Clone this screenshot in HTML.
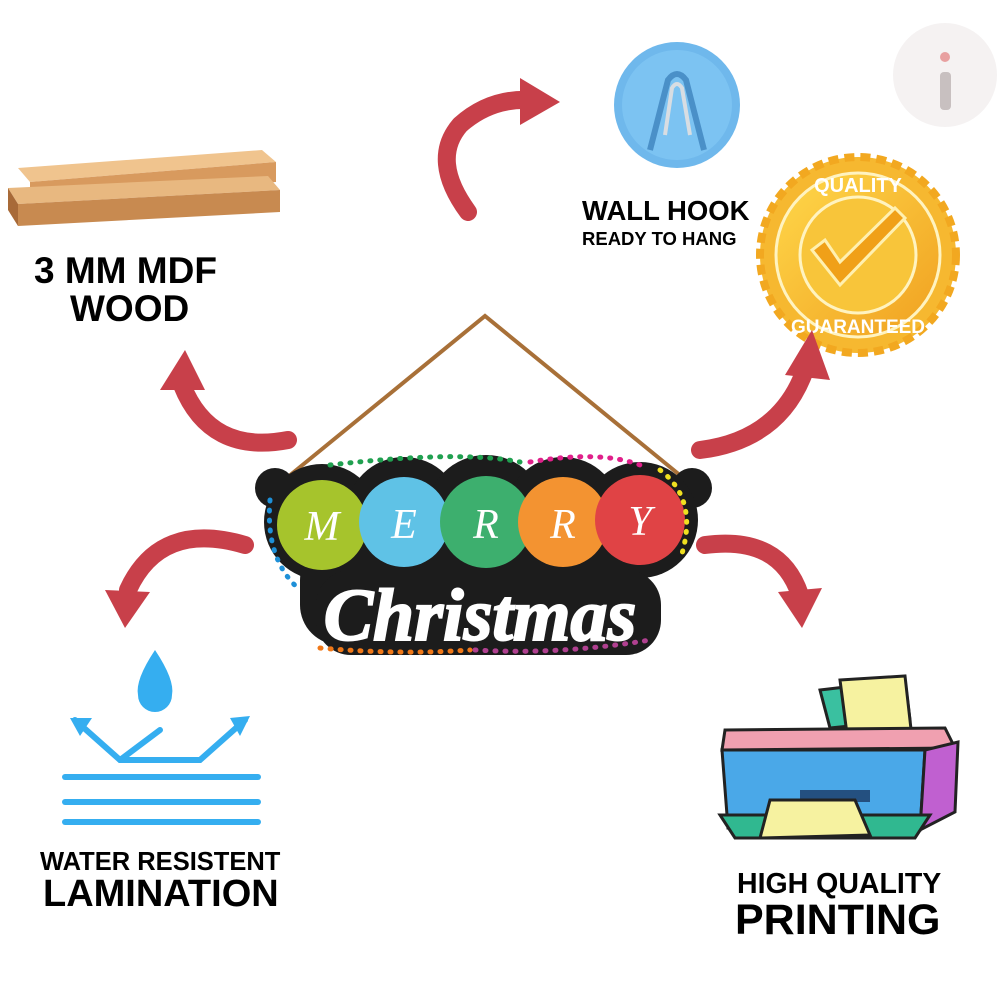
<!DOCTYPE html>
<html><head><meta charset="utf-8"><style>
body{margin:0;background:#fff;width:1000px;height:1000px;overflow:hidden;font-family:"Liberation Sans",sans-serif}
svg{position:absolute;left:0;top:0}
</style></head><body>
<svg width="1000" height="1000" viewBox="0 0 1000 1000">
<defs>
<linearGradient id="gold" x1="0" y1="0" x2="1" y2="1"><stop offset="0" stop-color="#ffd84a"/><stop offset="1" stop-color="#f0a020"/></linearGradient>
</defs>
<circle cx="945" cy="75" r="52" fill="#f5f2f2"/>
<rect x="940" y="72" width="11" height="38" rx="4" fill="#c8c0c0"/>
<circle cx="945" cy="57" r="5" fill="#e8a0a0"/>
<!-- wood -->
<polygon points="18,168 262,150 276,162 30,182" fill="#f0c48e"/>
<polygon points="30,182 276,162 276,182 30,200" fill="#d89a5e"/>
<polygon points="8,188 268,176 280,190 18,204" fill="#e8b880"/>
<polygon points="18,204 280,190 280,212 18,226" fill="#c88a50"/>
<polygon points="8,188 18,204 18,226 8,210" fill="#a86a38"/>
<!-- hook -->
<circle cx="677" cy="105" r="63" fill="#6fb8ec"/>
<circle cx="677" cy="105" r="55" fill="#7cc3f2"/>
<path d="M650 150 L668 80 Q677 68 686 80 L704 150" fill="none" stroke="#4a90c8" stroke-width="6"/>
<path d="M665 135 L672 88 Q677 80 682 88 L690 135" fill="none" stroke="#d8dde2" stroke-width="4"/>
<!-- badge -->
<circle cx="858" cy="255" r="98" fill="#f6b830" stroke="#f2a820" stroke-width="8" stroke-dasharray="10 6"/>
<circle cx="858" cy="255" r="82" fill="url(#gold)" stroke="#fff3c0" stroke-width="3"/>
<circle cx="858" cy="255" r="58" fill="#f8c53a" stroke="#fff3c0" stroke-width="3"/>
<path d="M812 250 L840 285 L905 218 L895 208 L840 262 L825 240 Z" fill="#f0a018" stroke="#fff0b0" stroke-width="3"/>
<text x="858" y="192" text-anchor="middle" font-weight="bold" font-size="20" fill="#fff">QUALITY</text>
<text x="858" y="333" text-anchor="middle" font-weight="bold" font-size="19" fill="#fff">GUARANTEED</text>
<!-- arrows -->
<g fill="none" stroke="#c8404a" stroke-width="18" stroke-linecap="round">
<path d="M468 212 Q430 160 460 125 Q490 98 530 100"/>
<path d="M288 440 Q210 455 182 385"/>
<path d="M700 450 Q780 440 805 370"/>
<path d="M245 545 Q160 520 128 590"/>
<path d="M705 545 Q780 535 800 595"/>
</g>
<g fill="#c8404a">
<polygon points="520,78 560,102 520,125"/>
<polygon points="160,390 185,350 205,390"/>
<polygon points="785,375 812,330 830,380"/>
<polygon points="105,590 125,628 150,592"/>
<polygon points="778,592 802,628 822,588"/>
</g>
<!-- sign -->
<path d="M278 485 L485 316 L692 485" fill="none" stroke="#a87038" stroke-width="4"/>
<g fill="#1c1c1c">
<circle cx="275" cy="488" r="20"/><circle cx="692" cy="488" r="20"/>
<circle cx="322" cy="522" r="58"/><circle cx="404" cy="515" r="58"/><circle cx="486" cy="515" r="60"/><circle cx="563" cy="515" r="58"/><circle cx="640" cy="520" r="58"/>
<rect x="300" y="540" width="330" height="105" rx="40"/>
<rect x="316" y="570" width="345" height="85" rx="35"/>
</g>
<circle cx="322" cy="525" r="45" fill="#a6c42c"/>
<circle cx="404" cy="522" r="45" fill="#5fc2e6"/>
<circle cx="486" cy="522" r="46" fill="#3daf6e"/>
<circle cx="563" cy="522" r="45" fill="#f39331"/>
<circle cx="640" cy="520" r="45" fill="#e04345"/>
<g fill="#fff" font-family="Liberation Serif,serif" font-style="italic" font-size="42" text-anchor="middle">
<text x="322" y="540">M</text><text x="404" y="538">E</text><text x="486" y="538">R</text><text x="563" y="538">R</text><text x="640" y="535">Y</text>
</g>
<g fill="none" stroke-width="5" stroke-dasharray="1 9" stroke-linecap="round">
<path d="M270 500 Q265 560 300 590" stroke="#1e90d8"/>
<path d="M330 465 Q460 450 520 462" stroke="#20a050"/>
<path d="M530 462 Q600 450 640 465" stroke="#e0208a"/>
<path d="M660 470 Q700 500 680 560" stroke="#f0e020"/>
<path d="M320 648 Q400 655 470 650" stroke="#f07818"/>
<path d="M475 650 Q560 655 650 640" stroke="#b04090"/>
</g>
<text x="480" y="640" text-anchor="middle" font-family="Liberation Serif,serif" font-style="italic" font-weight="bold" font-size="74" fill="#fff" stroke="#fff" stroke-width="2">Christmas</text>
<!-- water icon -->
<path d="M155 650 Q135 680 138 695 A17 17 0 0 0 172 695 Q175 680 155 650Z" fill="#35aef0"/>
<g fill="none" stroke="#35aef0" stroke-width="6" stroke-linecap="round">
<path d="M75 720 L120 760 L165 760 L200 760 L245 720"/>
<path d="M120 760 L160 730"/>
<path d="M65 777 L258 777"/><path d="M65 802 L258 802"/><path d="M65 822 L258 822"/>
</g>
<polygon points="70,718 92,718 80,736" fill="#35aef0"/>
<polygon points="250,716 230,718 240,736" fill="#35aef0"/>
<!-- printer -->
<polygon points="820,690 905,680 910,720 830,728" fill="#3ac0a0" stroke="#222" stroke-width="3"/>
<polygon points="840,680 905,676 912,738 848,742" fill="#f6f2a0" stroke="#222" stroke-width="3"/>
<polygon points="725,730 945,728 955,748 722,750" fill="#f0a0b0" stroke="#222" stroke-width="3"/>
<polygon points="722,750 925,750 920,830 728,828" fill="#4aa8e8" stroke="#222" stroke-width="3"/>
<polygon points="925,750 958,742 955,812 920,830" fill="#c060d0" stroke="#222" stroke-width="3"/>
<rect x="800" y="790" width="70" height="12" fill="#245080"/>
<polygon points="720,815 930,815 915,838 735,838" fill="#30b890" stroke="#222" stroke-width="3"/>
<polygon points="770,800 855,800 870,835 760,838" fill="#f6f2a0" stroke="#222" stroke-width="3"/>
</svg>
<div style="position:absolute;left:34px;top:252px;font-weight:bold;font-size:37px;line-height:38px">3 MM MDF<br><span style="margin-left:36px">WOOD</span></div>
<div style="position:absolute;left:582px;top:197px;font-weight:bold;font-size:27.5px;line-height:28px">WALL HOOK</div>
<div style="position:absolute;left:582px;top:228px;font-weight:bold;font-size:18.5px">READY TO HANG</div>
<div style="position:absolute;left:40px;top:848px;font-weight:bold;font-size:25.5px">WATER RESISTENT</div>
<div style="position:absolute;left:43px;top:873px;font-weight:bold;font-size:38px">LAMINATION</div>
<div style="position:absolute;left:737px;top:868px;font-weight:bold;font-size:28.5px">HIGH QUALITY</div>
<div style="position:absolute;left:735px;top:896px;font-weight:bold;font-size:43px">PRINTING</div>
</body></html>
